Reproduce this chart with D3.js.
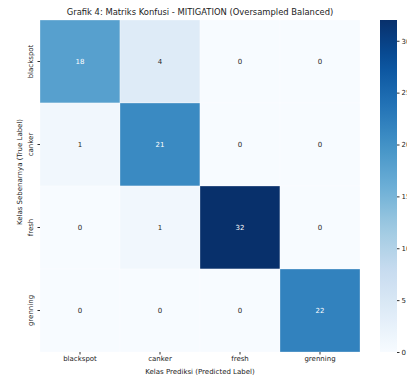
<!DOCTYPE html>
<html>
<head>
<meta charset="utf-8">
<script src="https://cdn.jsdelivr.net/npm/d3@7"></script>
<style>
  html, body { margin: 0; padding: 0; background: #fff; overflow: hidden; }
  svg { display: block; font-family: "DejaVu Sans", sans-serif; }
</style>
</head>
<body>
<svg id="chart" width="407" height="376"></svg>
<script>
// Confusion matrix for the MITIGATION model (oversampled, balanced)
const classes = ["blackspot", "canker", "fresh", "grenning"];
const rowBlackspot = [18, 4, 0, 0];
const rowCanker = [1, 21, 0, 0];
const rowFresh = [0, 1, 32, 0];
const rowGrenning = [0, 0, 0, 22];
const matrix = [rowBlackspot, rowCanker, rowFresh, rowGrenning];
const colorbarTicks = [0, 5, 10, 15, 20, 25, 30];

const titleText = "Grafik 4: Matriks Konfusi - MITIGATION (Oversampled Balanced)";
const xTitle = "Kelas Prediksi (Predicted Label)";
const yTitle = "Kelas Sebenarnya (True Label)";

const svg = d3.select("#chart");
const plot = { left: 40, top: 20, right: 360, bottom: 352 };
const bar = { left: 380, right: 397 };

// matplotlib-style "Blues": piecewise linear through the ColorBrewer stops
const bluesStops = ["#f7fbff","#deebf7","#c6dbef","#9ecae1","#6baed6","#4292c6","#2171b5","#08519c","#08306b"];
const blues = d3.scaleLinear()
  .domain(d3.range(bluesStops.length).map(i => i / (bluesStops.length - 1)))
  .range(bluesStops)
  .interpolate(d3.interpolateRgb)
  .clamp(true);

const vmax = d3.max(matrix.flat());
const norm = d3.scaleLinear().domain([0, vmax]).range([0, 1]);
const color = v => blues(norm(v));

const x = d3.scaleBand().domain(classes).range([plot.left, plot.right]);
const y = d3.scaleBand().domain(classes).range([plot.top, plot.bottom]);

const cells = [];
matrix.forEach((row, i) => row.forEach((v, j) => cells.push({ t: classes[i], p: classes[j], v })));

svg.append("g").selectAll("rect").data(cells).join("rect")
  .attr("x", d => x(d.p))
  .attr("y", d => y(d.t))
  .attr("width", x.bandwidth())
  .attr("height", y.bandwidth())
  .attr("fill", d => color(d.v))
  .attr("stroke", "#ffffff")
  .attr("stroke-opacity", 0.6)
  .attr("stroke-width", 0.5);

svg.append("g").selectAll("text").data(cells).join("text")
  .attr("x", d => x(d.p) + x.bandwidth() / 2)
  .attr("y", d => y(d.t) + y.bandwidth() / 2)
  .attr("text-anchor", "middle")
  .attr("dominant-baseline", "central")
  .attr("font-size", 7)
  .attr("fill", d => norm(d.v) > 0.5 ? "#ffffff" : "#262626")
  .text(d => d.v);

// Axes
const xAxis = svg.append("g")
  .attr("transform", `translate(0,${plot.bottom})`)
  .call(d3.axisBottom(x).tickSize(2.5).tickPadding(2));
xAxis.select(".domain").remove();
xAxis.selectAll("line").attr("stroke", "#333");
xAxis.selectAll("text").attr("font-size", 7).attr("font-family", "DejaVu Sans, sans-serif").attr("fill", "#222");

const yAxis = svg.append("g")
  .attr("transform", `translate(${plot.left},0)`)
  .call(d3.axisLeft(y).tickSize(2.5).tickPadding(2));
yAxis.select(".domain").remove();
yAxis.selectAll("line").attr("stroke", "#333");
yAxis.selectAll("text")
  .attr("font-size", 7)
  .attr("font-family", "DejaVu Sans, sans-serif")
  .attr("fill", "#222")
  .attr("x", null).attr("dy", null)
  .attr("text-anchor", "middle")
  .attr("transform", "translate(-7,0) rotate(-90)");

// Axis titles and chart title
svg.append("text")
  .attr("x", (plot.left + plot.right) / 2)
  .attr("y", 374)
  .attr("text-anchor", "middle")
  .attr("font-size", 7)
  .attr("fill", "#222")
  .text(xTitle);

svg.append("text")
  .attr("transform", `translate(22,${(plot.top + plot.bottom) / 2 - 14}) rotate(-90)`)
  .attr("text-anchor", "middle")
  .attr("font-size", 7)
  .attr("fill", "#222")
  .text(yTitle);

svg.append("text")
  .attr("x", (plot.left + plot.right) / 2)
  .attr("y", 15)
  .attr("text-anchor", "middle")
  .attr("font-size", 8.4)
  .attr("fill", "#222")
  .text(titleText);

// Colorbar
const cScale = d3.scaleLinear().domain([0, vmax]).range([plot.bottom, plot.top]);
const grad = svg.append("defs").append("linearGradient")
  .attr("id", "cbar").attr("x1", 0).attr("y1", 1).attr("x2", 0).attr("y2", 0);
d3.range(0, 1.0001, 0.05).forEach(t => {
  grad.append("stop").attr("offset", t).attr("stop-color", blues(t));
});
svg.append("rect")
  .attr("x", bar.left)
  .attr("y", plot.top)
  .attr("width", bar.right - bar.left)
  .attr("height", plot.bottom - plot.top)
  .attr("fill", "url(#cbar)");

const cAxis = svg.append("g")
  .attr("transform", `translate(${bar.right},0)`)
  .call(d3.axisRight(cScale).tickValues(colorbarTicks).tickSize(2.5).tickPadding(2));
cAxis.select(".domain").remove();
cAxis.selectAll("line").attr("stroke", "#333");
cAxis.selectAll("text").attr("font-size", 7).attr("font-family", "DejaVu Sans, sans-serif").attr("fill", "#222");
</script>
</body>
</html>
